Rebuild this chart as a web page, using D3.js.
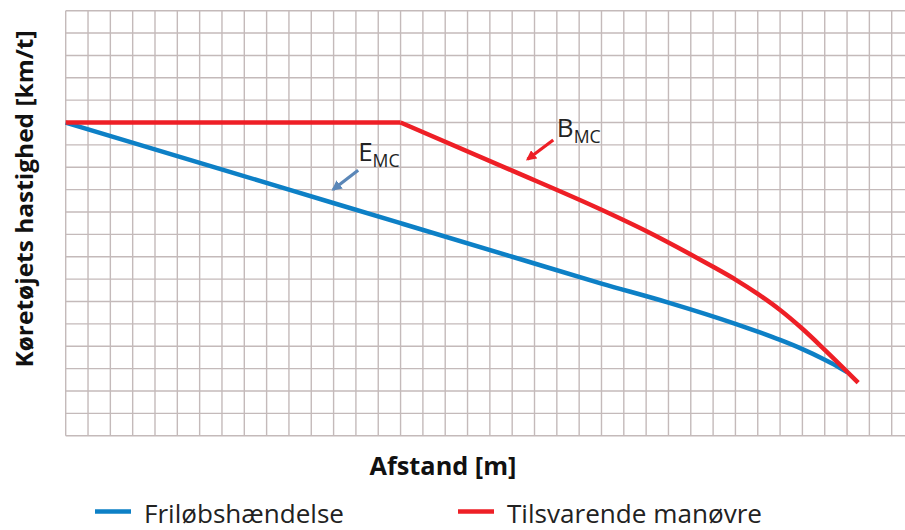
<!DOCTYPE html>
<html>
<head>
<meta charset="utf-8">
<script src="https://cdn.jsdelivr.net/npm/d3@7"></script>
<style>
  body { margin: 0; background: #fff; }
  svg { display: block; font-family: "Open Sans", "Noto Sans", sans-serif; }
</style>
</head>
<body>
<svg width="905" height="530"></svg>
<script>
// Series (distance and speed measured in grid cells, axes carry no numbers)
var seriesNames = ["Friløbshændelse", "Tilsvarende manøvre"];
var seriesColors = ["#0d80c6", "#ee1f26"];

var coastDist  = [0, 5, 10, 15, 20, 24, 27, 30, 31, 32, 33, 34, 34.5, 35];
var coastSpeed = [14, 12.5, 11, 9.5, 8, 6.8, 5.95, 5.0, 4.65, 4.28, 3.87, 3.4, 3.14, 2.85];

var brakeDist  = [0, 15, 20, 24, 26, 28, 29, 30, 31, 32, 33, 34, 35.5];
var brakeSpeed = [14, 14, 11.85, 10.1, 9.15, 8.1, 7.55, 6.98, 6.34, 5.62, 4.78, 3.84, 2.37];

// Annotations: label, arrow tail, arrow head, label position
var annoText  = ["E", "B"];
var annoSub   = ["MC", "MC"];
var annoColor = ["#5b87b8", "#ee1f26"];
var annoTail  = [[13.1, 11.87], [21.84, 13.22]];
var annoHead  = [[11.98, 11.01], [20.69, 12.36]];
var annoPos   = [[13.1, 12.27], [22.0, 13.35]];

var xTitle = "Afstand [m]";
var yTitle = "Køretøjets hastighed [km/t]";

var svg = d3.select("svg");
var width = +svg.attr("width");
var height = +svg.attr("height");

// Scales: one unit = one grid cell
var x = d3.scaleLinear().domain([0, 37]).range([65.7, 891.7]);
var y = d3.scaleLinear().domain([0, 19]).range([435.7, 10.7]);

// Grid
var grid = svg.append("g")
  .attr("stroke", "#c4baba")
  .attr("stroke-width", 1.4);

grid.selectAll("line.v")
  .data(d3.range(0, 38))
  .enter().append("line")
    .attr("class", "v")
    .attr("x1", function (d) { return x(d); })
    .attr("x2", function (d) { return x(d); })
    .attr("y1", y(19))
    .attr("y2", y(0));

grid.selectAll("line.h")
  .data(d3.range(0, 20))
  .enter().append("line")
    .attr("class", "h")
    .attr("x1", x(0))
    .attr("x2", width)
    .attr("y1", function (d) { return y(d); })
    .attr("y2", function (d) { return y(d); });

// Lines
var line = d3.line()
  .x(function (d) { return x(d[0]); })
  .y(function (d) { return y(d[1]); })
  .curve(d3.curveMonotoneX);

var coast = d3.zip(coastDist, coastSpeed);
var brake = d3.zip(brakeDist, brakeSpeed);

// the manoeuvre has a sharp corner where braking starts: flat part + curve
var paths = [
  { pts: coast, c: seriesColors[0] },
  { pts: brake.slice(0, 2), c: seriesColors[1] },
  { pts: brake.slice(1), c: seriesColors[1] }
];

svg.append("g")
  .selectAll("path")
  .data(paths)
  .enter().append("path")
    .attr("d", function (d) { return line(d.pts); })
    .attr("fill", "none")
    .attr("stroke", function (d) { return d.c; })
    .attr("stroke-width", 4.5)
    .attr("stroke-linejoin", "round");

// Arrow markers
var defs = svg.append("defs");
annoColor.forEach(function (c, i) {
  defs.append("marker")
    .attr("id", "arr" + i)
    .attr("viewBox", "0 0 10 10")
    .attr("refX", 8)
    .attr("refY", 5)
    .attr("markerWidth", 3.2)
    .attr("markerHeight", 3.2)
    .attr("orient", "auto")
    .append("path")
      .attr("d", "M0,0L10,5L0,10z")
      .attr("fill", c);
});

var anno = svg.append("g");
annoText.forEach(function (t, i) {
  anno.append("line")
    .attr("x1", x(annoTail[i][0]))
    .attr("y1", y(annoTail[i][1]))
    .attr("x2", x(annoHead[i][0]))
    .attr("y2", y(annoHead[i][1]))
    .attr("stroke", annoColor[i])
    .attr("stroke-width", 3.2)
    .attr("marker-end", "url(#arr" + i + ")");

  var txt = anno.append("text")
    .attr("x", x(annoPos[i][0]))
    .attr("y", y(annoPos[i][1]))
    .attr("font-size", 26)
    .attr("fill", "#222");
  txt.append("tspan").text(t);
  txt.append("tspan")
    .attr("font-size", 18)
    .attr("dy", 6)
    .attr("textLength", 27)
    .attr("lengthAdjust", "spacingAndGlyphs")
    .text(annoSub[i]);
});

// Axis titles (squeezed to the narrow width of the original font)
svg.append("text")
  .attr("transform", "translate(33,199) rotate(-90)")
  .attr("text-anchor", "middle")
  .attr("font-weight", "bold")
  .attr("font-size", 24)
  .attr("textLength", 337)
  .attr("lengthAdjust", "spacingAndGlyphs")
  .attr("fill", "#111")
  .text(yTitle);

svg.append("text")
  .attr("x", 443)
  .attr("y", 475)
  .attr("text-anchor", "middle")
  .attr("font-weight", "bold")
  .attr("font-size", 25)
  .attr("textLength", 147)
  .attr("lengthAdjust", "spacingAndGlyphs")
  .attr("fill", "#111")
  .text(xTitle);

// Legend
var legX = [95, 458];
var legW = [200, 255];
var leg = svg.append("g");
seriesNames.forEach(function (n, i) {
  leg.append("line")
    .attr("x1", legX[i])
    .attr("x2", legX[i] + 36)
    .attr("y1", 511.5)
    .attr("y2", 511.5)
    .attr("stroke", seriesColors[i])
    .attr("stroke-width", 4.5);
  leg.append("text")
    .attr("x", legX[i] + 49)
    .attr("y", 523)
    .attr("font-size", 25)
    .attr("textLength", legW[i])
    .attr("lengthAdjust", "spacingAndGlyphs")
    .attr("fill", "#222")
    .text(n);
});
</script>
</body>
</html>
